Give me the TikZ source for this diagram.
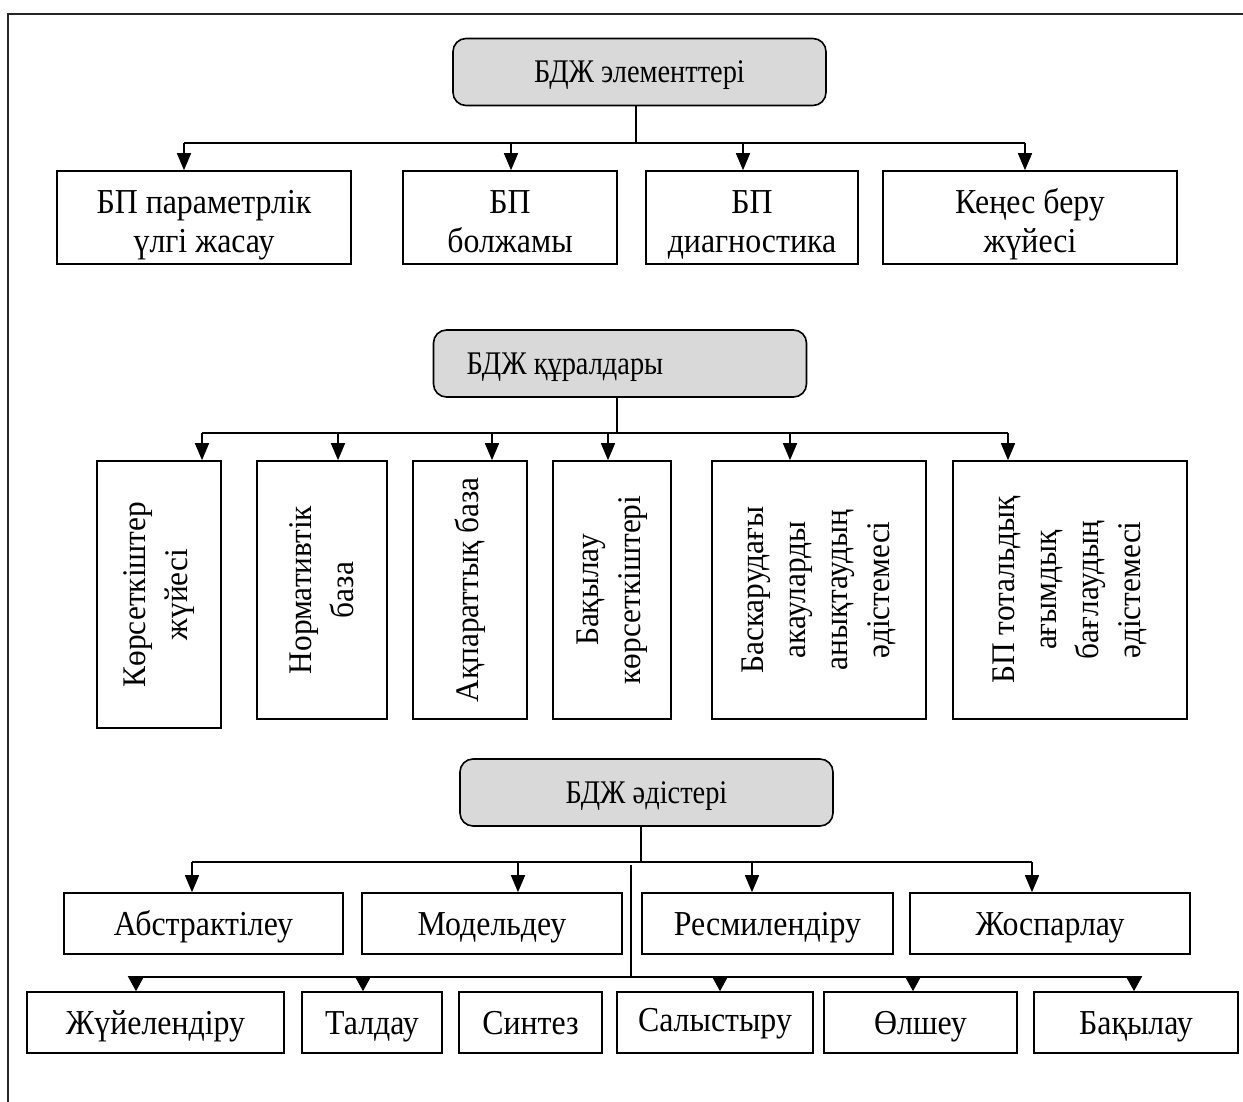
\documentclass[tikz,border=0pt]{standalone}
\usepackage{fontspec}
\setmainfont{Liberation Serif}
\newfontfamily\boxfont[FakeStretch=0.91]{Liberation Serif}
\newfontfamily\headfont[FakeStretch=0.86]{Liberation Serif}
\newfontfamily\sidefont[FakeStretch=0.95]{Liberation Serif}
\usetikzlibrary{arrows.meta}

% invisible struts that fix the first and last line of two-line labels
\newcommand\upstrut{\rule{0pt}{40pt}}
\newcommand\downstrut{\rule[-8pt]{0pt}{0pt}}

\tikzset{
  boxstyle/.style={draw=black, line width=1.6pt, fill=white, inner sep=0pt, align=center,
                   font=\boxfont\fontsize{35}{39}\selectfont},
  oneline/.style={text height=23pt, text depth=0pt},
  headbox/.style={draw=black, line width=1.6pt, fill=black!15, rounded corners=13pt,
                  inner sep=0pt, minimum width=373pt, minimum height=67pt,
                  font=\headfont\fontsize{33}{37}\selectfont, text height=22pt, text depth=0pt},
  vbox/.style={draw=black, line width=1.6pt, fill=white, inner sep=0pt},
  vtext/.style={rotate=90, align=center, inner sep=0pt, font=\sidefont\fontsize{33}{42}\selectfont},
  headtext/.style={inner sep=0pt, font=\headfont\fontsize{33}{37}\selectfont, text height=22pt, text depth=0pt},
  link/.style={line width=1.4pt},
  bus/.style={line width=2pt},
  arr/.style={line width=1.6pt, -{Triangle[length=17pt,width=14pt]}},
  tri/.style={line width=1.6pt, -{Triangle[length=15pt,width=16pt]}},
}

\begin{document}
\begin{tikzpicture}[x=1pt, y=-1pt]
\useasboundingbox (0,0) rectangle (1243,1102);

% outer frame (top and left sides)
\coordinate (fa) at (8,1102);
\coordinate (fb) at (8,14);
\coordinate (fc) at (1243,14);
\draw[line width=2.5pt, black!85] (fa) -- (fb) -- (fc);

% ---------- elements ----------
\node[headbox] (g1) at (639.5,72) {БДЖ элементтері};

\node[boxstyle, minimum width=294pt, minimum height=93pt] (r1a) at (204,217.5) {\upstrut БП параметрлік\\үлгі жасау\downstrut};
\node[boxstyle, minimum width=214pt, minimum height=93pt] (r1b) at (510,217.5) {\upstrut БП\\болжамы\downstrut};
\node[boxstyle, minimum width=212pt, minimum height=93pt] (r1c) at (752,217.5) {\upstrut БП\\диагностика\downstrut};
\node[boxstyle, minimum width=294pt, minimum height=93pt] (r1d) at (1030,217.5) {\upstrut Кеңес беру\\жүйесі\downstrut};

\coordinate (j1) at (636,143);
\coordinate (t1a) at (184,143);
\coordinate (t1b) at (511,143);
\coordinate (t1c) at (743,143);
\coordinate (t1d) at (1025,143);
\draw[link] (g1.south -| j1) -- (j1);
\draw[bus] (t1a) -- (t1d);
\draw[arr] (t1a) -- (t1a |- r1a.north);
\draw[arr] (t1b) -- (t1b |- r1b.north);
\draw[arr] (t1c) -- (t1c |- r1c.north);
\draw[arr] (t1d) -- (t1d |- r1d.north);

% ---------- tools ----------
\node[headbox] (g2) at (620,363.5) {};
\node[headtext] (g2t) at (565,363.5) {БДЖ құралдары};

\node[vbox, minimum width=124pt, minimum height=267pt] (v1) at (159,594.5) {};
\node[vbox, minimum width=130pt, minimum height=258pt] (v2) at (322,590) {};
\node[vbox, minimum width=114pt, minimum height=258pt] (v3) at (470,590) {};
\node[vbox, minimum width=118pt, minimum height=258pt] (v4) at (612,590) {};
\node[vbox, minimum width=214pt, minimum height=258pt] (v5) at (819,590) {};
\node[vbox, minimum width=234pt, minimum height=258pt] (v6) at (1070,590) {};

\node[vtext] (v1t) at (v1.center) {Көрсеткіштер\\жүйесі};
\node[vtext] (v2t) at (v2.center) {Нормативтік\\база};
\node[vtext] (v3t) at (v3.center) {Ақпараттық база};
\node[vtext] (v4t) at (v4.center) {Бақылау\\көрсеткіштері};
\node[vtext] (v5t) at (v5.center) {Баскарудағы\\акауларды\\анықтаудың\\әдістемесі};
\node[vtext] (v6t) at (v6.center) {БП тотальдық\\ағымдық\\бағлаудың\\әдістемесі};

\coordinate (j2) at (617,433);
\coordinate (t2a) at (202,433);
\coordinate (t2b) at (338,433);
\coordinate (t2c) at (492,433);
\coordinate (t2d) at (608,433);
\coordinate (t2e) at (790,433);
\coordinate (t2f) at (1008,433);
\draw[link] (g2.south -| j2) -- (j2);
\draw[link] (t2a) -- (t2f);
\draw[arr] (t2a) -- (t2a |- v1.north);
\draw[arr] (t2b) -- (t2b |- v2.north);
\draw[arr] (t2c) -- (t2c |- v3.north);
\draw[arr] (t2d) -- (t2d |- v4.north);
\draw[arr] (t2e) -- (t2e |- v5.north);
\draw[arr] (t2f) -- (t2f |- v6.north);

% ---------- methods ----------
\node[headbox] (g3) at (646.5,792.5) {БДЖ әдістері};

\node[boxstyle, oneline, minimum width=279pt, minimum height=61pt] (r3a) at (203.5,923.5) {Абстрактілеу};
\node[boxstyle, oneline, minimum width=260pt, minimum height=61pt] (r3b) at (492,923.5) {Модельдеу};
\node[boxstyle, oneline, minimum width=251pt, minimum height=61pt] (r3c) at (767.5,923.5) {Ресмилендіру};
\node[boxstyle, oneline, minimum width=280pt, minimum height=61pt] (r3d) at (1050,923.5) {Жоспарлау};

\coordinate (j3) at (641,862);
\coordinate (t3a) at (192,862);
\coordinate (t3b) at (518,862);
\coordinate (t3c) at (752,862);
\coordinate (t3d) at (1032,862);
\draw[link] (g3.south -| j3) -- (j3);
\draw[bus] (t3a) -- (t3d);
\draw[arr] (t3a) -- (t3a |- r3a.north);
\draw[arr] (t3b) -- (t3b |- r3b.north);
\draw[arr] (t3c) -- (t3c |- r3c.north);
\draw[arr] (t3d) -- (t3d |- r3d.north);

\node[boxstyle, oneline, minimum width=257pt, minimum height=61pt] (r4a) at (155.5,1022.5) {Жүйелендіру};
\node[boxstyle, oneline, minimum width=140pt, minimum height=61pt] (r4b) at (372,1022.5) {Талдау};
\node[boxstyle, oneline, minimum width=143pt, minimum height=61pt] (r4c) at (530.5,1022.5) {Синтез};
\node[boxstyle, oneline, text depth=5pt, minimum width=196pt, minimum height=61pt] (r4d) at (715,1022.5) {Салыстыру};
\node[boxstyle, oneline, minimum width=193pt, minimum height=61pt] (r4e) at (920.5,1022.5) {Өлшеу};
\node[boxstyle, oneline, minimum width=204pt, minimum height=61pt] (r4f) at (1136,1022.5) {Бақылау};

\coordinate (j4a) at (631,865);
\coordinate (j4b) at (631,977);
\coordinate (t4l) at (134,977);
\coordinate (t4r) at (1138,977);
\coordinate (t4a) at (136,977);
\coordinate (t4b) at (363,977);
\coordinate (t4d) at (720,977);
\coordinate (t4e) at (913,977);
\coordinate (t4f) at (1134,977);
\draw[link] (j4a) -- (j4b);
\draw[bus] (t4l) -- (t4r);
\draw[tri] (t4a) -- (t4a |- r4a.north);
\draw[tri] (t4b) -- (t4b |- r4b.north);
\draw[tri] (t4d) -- (t4d |- r4d.north);
\draw[tri] (t4e) -- (t4e |- r4e.north);
\draw[tri] (t4f) -- (t4f |- r4f.north);
\end{tikzpicture}
\end{document}
